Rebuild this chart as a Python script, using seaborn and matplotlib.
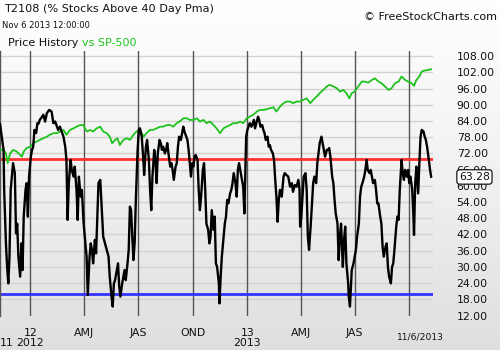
import numpy as np
import pandas as pd
import matplotlib
matplotlib.use("Agg")
import matplotlib.pyplot as plt
import matplotlib.transforms as mtransforms
from matplotlib.colors import LinearSegmentedColormap
import seaborn as sns

# ---------------- data ----------------
START = "2011-11-11"

# T2108 (% stocks above 40 day moving average), x = days since START
t2108_days = [0, 3, 6, 7, 10, 12, 14, 16, 18, 20, 22, 25, 27, 29, 31, 34, 36, 38, 40, 43,
              45, 47, 49, 52, 54, 56, 58, 61, 63, 65, 67, 71, 73, 76, 79, 83, 87, 90, 93, 96,
              98, 101, 104, 107, 110, 112, 114, 116, 119, 121, 124, 126, 129, 131, 133, 136, 138, 141, 143, 146,
              148, 151, 153, 155, 157, 160, 162, 164, 166, 169, 171, 174, 177, 180, 183, 185, 188, 190, 192, 194,
              197, 199, 201, 203, 206, 208, 210, 212, 215, 217, 219, 221, 223, 225, 227, 229, 232, 234, 236,
              239, 242, 243, 246, 248, 251, 253, 255, 257, 260, 262, 264, 266, 269, 271, 273, 275, 278, 280, 282,
              284, 287, 289, 291, 293, 296, 298, 300, 302, 305, 307, 309, 311, 314, 316, 318, 320, 322, 324, 326,
              328, 330, 333, 335, 337, 339, 342, 344, 346, 348, 351, 353, 355, 357, 360, 362, 364, 366, 369, 370,
              372, 374, 377, 379, 381, 383, 385, 388, 390, 392, 394, 397, 399, 401, 403, 406, 408, 410, 412, 415,
              417, 419, 421, 424, 426, 428, 430, 433, 435, 437, 439, 442, 444, 446, 448, 451, 453, 455, 457, 460,
              462, 464, 466, 468, 470, 472,
              475, 478, 480, 483, 486, 489, 492, 494, 497, 500, 503, 505, 506, 508, 510, 512, 515, 517, 519, 521,
              524, 526, 528, 530, 533, 535, 537, 539, 542, 544, 546, 548, 551, 553, 555, 557, 560, 562, 564, 566,
              569, 571, 573, 575, 578, 580, 582, 584, 587, 588, 590, 592, 593, 596, 598, 600, 602, 605, 607, 609,
              611, 614, 616, 618, 620, 623, 625, 627, 629, 632, 634, 636, 638, 641, 643, 645, 647, 650, 652, 654,
              656, 659, 661, 663, 665, 668, 670, 672, 674, 677, 679, 681, 683, 686, 688, 690, 692, 695, 697, 698,
              700, 702, 705, 707, 709, 711, 714, 716, 718, 720, 723, 725, 727]
t2108_vals = [83, 78.2, 73.3, 58.5, 38.7, 30, 23.9, 33.8, 58.5, 63.4, 68.4, 64.7, 42.4, 46, 33.8, 26.4, 38.7, 28.8, 48.6, 58.5,
              61, 48.6, 63.4, 70.8, 73.3, 74.5, 80.7, 79.5, 83.2, 83, 84.4, 85.6, 86.3, 83.8, 86.9, 88.1, 87.5, 83.2, 83.8, 81.9,
              80.7, 81.9, 80.1, 78.2, 74.5, 69.6, 47.4, 61, 69.6, 65.9, 63.4, 67.1, 58.5, 47.4, 63.4, 56, 58.5, 46, 41.2, 33.8,
              19.6, 33.8, 38.7, 36.3, 31.3, 40, 35, 48.6, 61, 62.2, 53.5, 41.2, 38.7, 36.3, 33.8, 26.4, 19, 15.3, 23.9, 25.1,
              28.8, 31.3, 22.7, 19, 23.9, 26.4, 28.8, 25.1, 31.3, 36.3, 52.3, 51, 41.2, 32.5, 38.7, 54.8, 73.3, 80.7, 81.3,
              78.2, 68.4, 64, 74.5, 77, 69.6, 58.5, 51, 63.4, 73.3, 69.6, 61, 72, 77, 75.8, 73.3, 74.5, 72, 73.3, 75.8,
              72, 67.1, 68.4, 65.9, 62.2, 67.1, 68.4, 74.5, 78.2, 77, 79.5, 81.9, 80.1, 78.2, 77, 73.3, 68.4, 63.4, 68.4, 67.1,
              70.8, 71.4, 69.6, 58.5, 51, 56, 65.9, 68.4, 58.5, 46, 43.7, 38.7, 41.2, 51, 43.7, 48.6, 31.3, 30, 23.9, 16.5,
              26.4, 33.8, 41.2, 46, 48.6, 54.8, 53.5, 57.2, 58.5, 61, 64.7, 61, 56, 65.9, 68.4, 64.7, 62.2, 59.7, 49.8, 78.2,
              80.7, 81.9, 83.2, 81.9, 83.2, 84.4, 81.3, 83.8, 85.6, 84.4, 81.9, 82.5, 80.7, 79.5, 77, 78.2, 74.5, 75.1, 73.3, 72,
              69.6, 62.2, 56, 46.7, 54.8, 58.5,
              56, 63.4, 64.7, 64, 63.4, 59.7, 61, 57.8, 60.3, 59.7, 62.2, 58.5, 44.9, 48.6, 56, 63.4, 64.7, 58.5, 41.2, 36.3,
              46, 53.5, 61, 63.4, 61, 68.4, 72, 75.8, 78.2, 75.8, 73.3, 70.8, 73.3, 73.3, 74, 70.8, 63.4, 61, 54.8, 49.8,
              46, 32.5, 41.2, 46, 30, 40, 44.9, 31.3, 23.9, 19, 15.3, 23.9, 28.8, 31.3, 33.8, 36.3, 41.2, 46, 56, 59.7,
              61, 63.4, 65.9, 69.6, 65.9, 64.7, 65.9, 63.4, 61, 62.2, 58.5, 53.5, 53.5, 48.6, 46, 37.5, 33.8, 37.5, 38.7, 30,
              26.4, 23.9, 30, 31.3, 36.3, 44.9, 48.6, 47.4, 58.5, 69.6, 64.7, 62.2, 65.9, 63.4, 65.9, 61, 63.4, 58.5, 48.6, 41.8,
              61, 67.1, 57.2, 68.4, 78.2, 80.7, 80.1, 78.2, 77, 74.5, 69.6, 65.9, 63.28]

# S&P 500 price history, rescaled onto the same axis
spx_days = [0, 6, 10, 13, 17, 22, 28, 34, 37, 40, 45, 51, 56, 62, 67, 73, 79, 84, 90, 96,
            101, 107, 112, 118, 124, 129, 135, 141, 143, 147, 152, 157, 163, 169, 174, 180, 185, 189, 194, 198,
            202, 208, 214, 219, 225, 230, 236,
            242, 247, 253, 258, 264, 270, 275, 281, 287, 292, 298, 303, 309, 315, 320, 326, 332, 337, 343, 348,
            354, 360, 365, 371, 377, 382, 388, 393, 399, 405, 410, 416, 421, 427, 433, 438, 444, 450, 455, 461,
            466, 472,
            478, 483, 489, 494, 500, 506, 511, 517, 523, 528, 534, 539, 545, 551, 556, 562, 568, 573, 579, 584,
            589, 593, 598, 604, 610, 615, 621, 627, 632, 638, 643, 649, 655, 660, 666, 672, 677, 683, 688, 694,
            698, 702, 707, 711, 716, 722, 727]
spx_vals = [73.3, 73.3, 72, 68.4, 72, 73.3, 72.7, 71.4, 70.8, 72.7, 74, 74.5, 75.8, 76.4, 77, 77.6, 78.2, 78.9, 79.5, 79.5,
            80.1, 80.7, 78.9, 80.7, 81.3, 81.9, 82.5, 82.5, 81.3, 80.1, 80.7, 80.1, 81.3, 81.9, 80.1, 79.5, 78.2, 75.8, 77, 77.6,
            75.1, 77, 77.6, 77, 78.9, 80.1, 80.7,
            78.2, 79.5, 80.7, 80.7, 81.3, 81.9, 81.9, 82.5, 82.5, 81.9, 83.2, 83.8, 85, 85, 84.4, 84.4, 85, 83.8, 84.4, 83.2,
            83.8, 82.5, 81.3, 79.5, 81.3, 81.9, 82.5, 83.2, 83.2, 83.8, 83.2, 85, 85.6, 86.3, 87.5, 88.1, 88.1, 88.4, 88.7, 89.1,
            87.5, 89.3,
            90.6, 91.2, 91.2, 90.6, 91.2, 91.2, 91.8, 92.4, 90.6, 91.8, 93.1, 94.3, 95.5, 96.8, 97.4, 96.8, 96.1, 94.9, 95.5, 94.3,
            92.4, 94.3, 94.9, 96.8, 98.6, 98.6, 98.2, 99.2, 99.8, 98.6, 98, 96.8, 95.5, 96.1, 98, 98.6, 100.5, 99.2, 98.6, 98,
            97, 99.2, 100.5, 102.3, 102.7, 102.9, 103.2]

overbought_level = 70
oversold_level = 20
last_value = 63.28
y_ticks = [12, 18, 24, 30, 36, 42, 48, 54, 60, 66, 72, 78, 84, 90, 96, 102, 108]
quarter_dates = ["2012-01-01", "2012-04-01", "2012-07-01", "2012-10-01",
                 "2013-01-01", "2013-04-01", "2013-07-01", "2013-10-01"]
quarter_labels = ["12", "AMJ", "JAS", "OND", "13", "AMJ", "JAS", ""]
year_dates = ["2012-01-01", "2013-01-01"]
year_labels = ["2012", "2013"]
end_date = "2013-11-10"

# ---------------- frames ----------------
start = pd.Timestamp(START)
t2108 = pd.DataFrame({"date": start + pd.to_timedelta(t2108_days, unit="D"), "value": t2108_vals})
spx = pd.DataFrame({"date": start + pd.to_timedelta(spx_days, unit="D"), "value": spx_vals})

# ---------------- style ----------------
sns.set_style("white")
plt.rcParams["font.family"] = ["DejaVu Sans"]

W, H = 500, 350
fig = plt.figure(figsize=(W / 100, H / 100), dpi=100)

# background gradient
bg = fig.add_axes([0, 0, 1, 1], zorder=-10)
grad = np.linspace(0, 1, 256).reshape(-1, 1)
cmap = LinearSegmentedColormap.from_list("bg", ["#ffffff", "#f1f1f1", "#dfdfdf"])
bg.imshow(grad, aspect="auto", cmap=cmap, extent=[0, 1, 0, 1])
bg.axis("off")

left_px, right_px, top_px, bot_px = 0, 433, 50.5, 315.5
ax = fig.add_axes([left_px / W, 1 - bot_px / H, (right_px - left_px) / W, (bot_px - top_px) / H])
ax.patch.set_alpha(0)

# grid lines
for yv in y_ticks[1:]:
    ax.axhline(yv, color="#d2d2d2", lw=1, zorder=0)
for d in quarter_dates:
    ax.axvline(pd.Timestamp(d), color="#555555", lw=1, zorder=1)

# reference levels
ax.axhline(overbought_level, color="#ff3030", lw=2, zorder=2)
ax.axhline(oversold_level, color="#3333ff", lw=2, zorder=2)

# series
sns.lineplot(data=spx, x="date", y="value", color="#1ec31e", lw=1.3, ax=ax, zorder=3)
sns.lineplot(data=t2108, x="date", y="value", color="black", lw=1.7, ax=ax, zorder=4)

ax.set_xlim(start, pd.Timestamp(end_date))
ax.set_ylim(12, 110.1)
ax.set_xlabel("")
ax.set_ylabel("")

for s in ["top", "right", "bottom"]:
    ax.spines[s].set_visible(False)
ax.spines["left"].set_color("#555555")
ax.spines["left"].set_linewidth(1)

# y ticks on right
ax.yaxis.tick_right()
ax.set_yticks(y_ticks)
ax.set_yticklabels([f"{v:.2f}" for v in y_ticks])
ax.tick_params(axis="y", length=0, pad=17, labelsize=7.8, colors="#111111")

# x ticks
ax.set_xticks([pd.Timestamp(d) for d in quarter_dates])
ax.set_xticklabels(quarter_labels)
ax.tick_params(axis="x", length=0, pad=9, labelsize=7.8, colors="#111111")

# year row
xtrans = mtransforms.blended_transform_factory(ax.transData, ax.transAxes)
row2_y = -(343 - bot_px) / (bot_px - top_px)
for d, lab in zip(year_dates, year_labels):
    ax.text(pd.Timestamp(d), row2_y, lab, transform=xtrans, ha="center", va="center",
            fontsize=7.8, color="#111111")
ax.text(0.0, row2_y, "11", transform=ax.transAxes, ha="left", va="center", fontsize=7.8, color="#111111")
ax.text(420 / right_px, -(337 - bot_px) / (bot_px - top_px), "11/6/2013", transform=ax.transAxes,
        ha="center", va="center", fontsize=6.6, color="#111111")

# last-value box
ytrans = mtransforms.blended_transform_factory(ax.transAxes, ax.transData)
ax.text(1 + 26 / (right_px - left_px), last_value, f"{last_value:.2f}", transform=ytrans,
        ha="left", va="center", fontsize=7.8, color="#111111",
        bbox=dict(boxstyle="round,pad=0.2,rounding_size=0.25", fc="white", ec="black", lw=0.8), zorder=10)

# header texts
fig.text(4 / W, 1 - 9 / H, "T2108 (% Stocks Above 40 Day Pma)", ha="left", va="center",
         fontsize=8.1, color="#111111")
fig.text(2 / W, 1 - 25 / H, "Nov 6 2013 12:00:00", ha="left", va="center", fontsize=6, color="#111111")
t1 = fig.text(8 / W, 1 - 43 / H, "Price History ", ha="left", va="center", fontsize=8, color="#111111")
fig.canvas.draw()
bb = t1.get_window_extent()
fig.text(bb.x1 / W, 1 - 43 / H, "vs SP-500", ha="left", va="center", fontsize=8, color="#1ec31e")
fig.text(497 / W, 1 - 17 / H, "\u00a9 FreeStockCharts.com", ha="right", va="center", fontsize=8, color="#111111")

fig.savefig("out.png", dpi=100)
